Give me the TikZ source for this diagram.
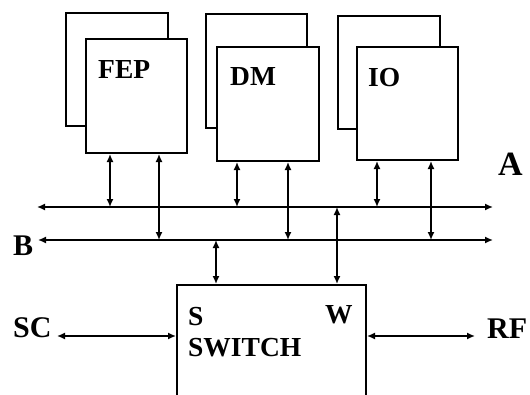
\documentclass[tikz,border=0pt]{standalone}
\usepackage{fontspec}
\setmainfont{Liberation Serif}
\usetikzlibrary{arrows.meta}
\tikzset{
  box/.style={draw, line width=2pt, fill=white, inner sep=0pt, anchor=north west},
  lbl/.style={font=\fontsize{27.5}{29}\selectfont\bfseries, inner sep=0pt, anchor=base west},
  big/.style={font=\fontsize{30}{32}\selectfont\bfseries, inner sep=0pt, anchor=base west},
  conn/.style={line width=1.5pt, {Latex[length=8pt,width=7pt]}-{Latex[length=8pt,width=7pt]}},
}
\begin{document}
\begin{tikzpicture}[x=1pt,y=-1pt]
\useasboundingbox (0,0) rectangle (530,394);
% back boxes
\node[box, minimum width=102pt, minimum height=113pt] (fepb) at (65,12) {};
\node[box, minimum width=101pt, minimum height=114pt] (dmb) at (205,13) {};
\node[box, minimum width=102pt, minimum height=113pt] (iob) at (337,15) {};
% front boxes
\node[box, minimum width=101pt, minimum height=114pt] (fep) at (85,38) {};
\node[box, minimum width=102pt, minimum height=114pt] (dm) at (216,46) {};
\node[box, minimum width=101pt, minimum height=113pt] (io) at (356,46) {};
\node[lbl] (fept) at (98,78) {FEP};
\node[lbl] (dmt) at (230,85) {DM};
\node[lbl] (iot) at (368,86) {IO};
% switch
\node[box, minimum width=189pt, minimum height=120pt] (sw) at (176,284) {};
\node[lbl] (st) at (188,325) {S};
\node[lbl] (swt) at (188,356) {SWITCH};
\node[lbl] (wt) at (325,323) {W};
% labels
\node[big, font=\fontsize{34}{36}\selectfont\bfseries] (la) at (498,175) {A};
\node[big] (lb) at (13,255) {B};
\node[big] (lsc) at (13,337) {SC};
\node[big] (lrf) at (487,338) {RF};
% buses
\coordinate (aL) at (37,207);
\coordinate (aR) at (493,207);
\coordinate (bL) at (38,240);
\coordinate (bR) at (493,240);
\draw[conn] (aL) -- (aR);
\draw[conn] (bL) -- (bR);
% verticals
\draw[conn] ([xshift=25pt]fep.south west) -- ([xshift=25pt]fep.south west |- aL);
\draw[conn] ([xshift=74pt]fep.south west) -- ([xshift=74pt]fep.south west |- bL);
\draw[conn] ([xshift=21pt]dm.south west) -- ([xshift=21pt]dm.south west |- aL);
\draw[conn] ([xshift=72pt]dm.south west) -- ([xshift=72pt]dm.south west |- bL);
\draw[conn] ([xshift=21pt]io.south west) -- ([xshift=21pt]io.south west |- aL);
\draw[conn] ([xshift=75pt]io.south west) -- ([xshift=75pt]io.south west |- bL);
\draw[conn] ([xshift=40pt]sw.north west) -- ([xshift=40pt]sw.north west |- bL);
\draw[conn] ([xshift=161pt]sw.north west) -- ([xshift=161pt]sw.north west |- aL);
% side connectors
\coordinate (scE) at (57,336);
\coordinate (rfE) at (475,336);
\draw[conn] (scE) -- (scE -| sw.west);
\draw[conn] (sw.east |- rfE) -- (rfE);
\end{tikzpicture}
\end{document}
